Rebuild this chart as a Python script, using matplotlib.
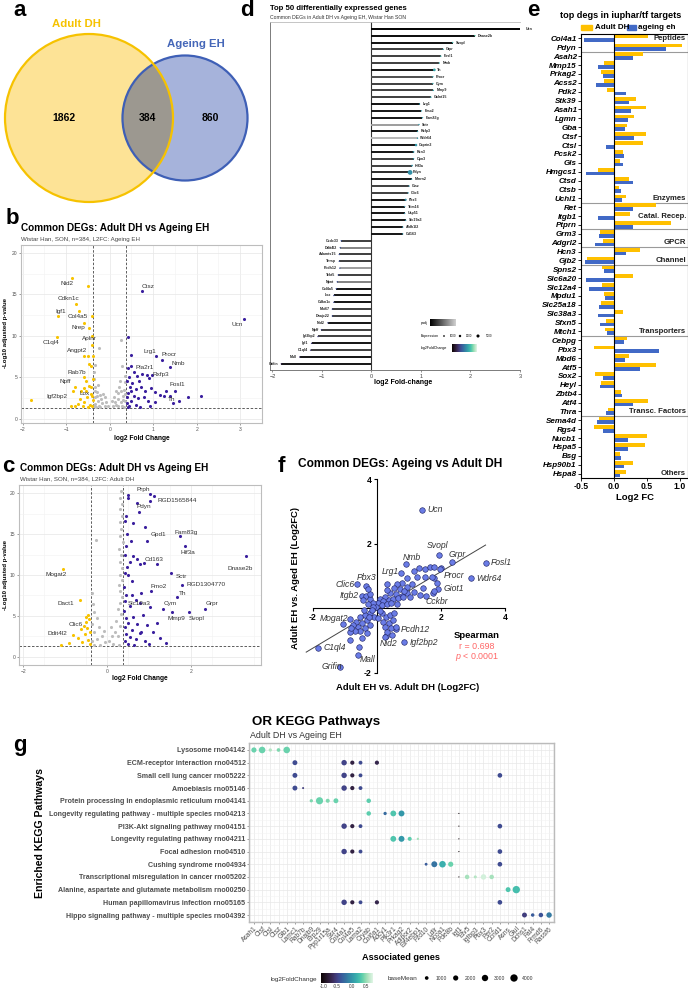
import matplotlib.pyplot as plt
import numpy as np
import seaborn as sns
from matplotlib.patches import Circle, Rectangle
from matplotlib.colors import Normalize, LinearSegmentedColormap

plt.rcParams['font.family'] = ['Liberation Sans', 'DejaVu Sans']
plt.rcParams['mathtext.fontset'] = 'custom'
plt.rcParams['mathtext.it'] = 'Liberation Sans:italic'
plt.rcParams['mathtext.rm'] = 'Liberation Sans'

# ---------------- data ----------------
# a: venn counts
venn_only_dh = 1862
venn_common = 384
venn_only_eh = 860

# b: volcano, L2FC Ageing EH  (x = log2FC, y = -log10 padj)
b_down = [(-0.87, 17.0), (-0.51, 16.0), (-0.78, 13.9), (-0.70, 13.0), (-1.19, 12.4), (-0.41, 12.4),
          (-0.60, 11.6), (-0.47, 11.0), (-1.21, 9.9), (-0.40, 10.0), (-0.41, 8.9), (-0.60, 7.6),
          (-0.51, 7.6), (-0.39, 7.6), (-0.47, 6.6), (-0.44, 6.4), (-0.60, 5.0), (-0.55, 4.6),
          (-0.39, 4.8), (-0.47, 4.0), (-0.79, 3.9), (-0.84, 3.4), (-0.60, 3.7), (-0.66, 3.3),
          (-0.42, 3.0), (-0.52, 2.6), (-0.39, 2.3), (-0.60, 2.0), (-0.72, 1.8), (-0.45, 1.7),
          (-0.40, 1.5), (-0.62, 1.5), (-0.80, 1.6), (-0.55, 3.4), (-1.81, 2.25), (-0.43, 3.9),
          (-0.50, 1.4), (-0.68, 2.4), (-0.40, 2.7), (-0.90, 1.5)]
b_grey = [(-0.36, 4.8), (-0.34, 3.9), (-0.30, 3.2), (-0.35, 2.6), (-0.28, 2.2), (-0.22, 2.9),
          (-0.33, 1.8), (-0.25, 1.6), (-0.18, 1.9), (-0.12, 1.5), (-0.31, 1.4), (-0.20, 2.4),
          (-0.15, 3.0), (-0.27, 4.1), (-0.36, 5.6), (-0.33, 6.5), (-0.25, 8.6), (-0.08, 2.0),
          (-0.05, 1.6), (-0.10, 2.6), (-0.22, 1.45), (-0.35, 3.3), (-0.29, 2.7), (-0.36, 1.6),
          (0.08, 1.5), (0.12, 2.0), (0.15, 1.7), (0.20, 2.4), (0.18, 3.1), (0.25, 2.0), (0.28, 1.6),
          (0.30, 2.8), (0.22, 3.8), (0.33, 3.5), (0.35, 4.4), (0.10, 2.6), (0.27, 9.5), (0.28, 6.4),
          (0.36, 5.2), (0.32, 1.45), (0.14, 3.4), (0.06, 2.2), (0.24, 4.6), (0.36, 2.1), (0.31, 2.3),
          (0.20, 1.5), (0.34, 3.0), (0.26, 3.3)]
b_up = [(0.73, 15.4), (3.08, 12.0), (0.43, 9.9), (1.07, 7.6), (0.48, 7.7), (1.21, 7.1), (1.38, 6.2),
        (0.50, 6.4), (0.96, 5.3), (1.50, 3.3), (1.38, 2.7), (0.42, 6.1), (0.55, 5.6), (0.45, 5.0),
        (0.62, 5.2), (0.75, 5.4), (0.86, 5.3), (0.90, 4.9), (0.68, 4.6), (0.52, 4.3), (0.40, 4.6),
        (0.47, 3.8), (0.60, 3.6), (0.72, 3.9), (0.80, 3.4), (0.95, 3.7), (1.05, 3.2), (1.15, 2.9),
        (1.25, 2.8), (0.42, 3.1), (0.55, 2.8), (0.66, 2.5), (0.78, 2.6), (0.88, 2.2), (0.50, 2.2),
        (0.40, 1.9), (0.60, 1.7), (0.45, 1.5), (0.92, 1.6), (1.45, 1.9), (2.10, 2.7), (1.60, 2.2),
        (1.03, 2.0), (0.70, 1.4), (0.40, 2.6), (0.43, 1.4), (1.80, 2.6), (1.30, 3.4), (0.50, 3.3)]
b_labels = [("Nid2", -0.99, 16.3), ("Cdkn1c", -0.96, 14.5), ("Igf1", -1.12, 13.0), ("Col4a5", -0.73, 12.4),
            ("Nrep", -0.73, 11.0), ("C1ql4", -1.35, 9.2), ("Aplnr", -0.47, 9.7), ("Angpt2", -0.76, 8.2),
            ("Rab7b", -0.76, 5.6), ("Npff", -1.02, 4.5), ("Igf2bp2", -1.22, 2.7), ("Lox", -0.58, 3.1),
            ("Ctsz", 0.88, 15.9), ("Lrg1", 0.92, 8.1), ("Procr", 1.36, 7.7), ("Nmb", 1.58, 6.7),
            ("Pla2r1", 0.81, 6.2), ("Rxfp3", 1.17, 5.3), ("Fosl1", 1.56, 4.2), ("Th", 1.42, 2.3),
            ("Ucn", 2.93, 11.4)]

# c: volcano, L2FC Adult DH
c_down = [(-1.06, 10.7), (-0.64, 7.0), (-0.50, 4.3), (-0.82, 2.7), (-0.45, 5.1), (-0.50, 4.9),
          (-0.42, 4.6), (-0.55, 3.8), (-0.48, 3.5), (-0.62, 3.4), (-0.40, 3.0), (-0.52, 2.8),
          (-0.70, 2.3), (-0.45, 2.1), (-0.40, 1.6), (-0.60, 1.8), (-0.90, 1.7), (-1.10, 1.5)]
c_grey = [(0.33, 20.2), (0.31, 19.4), (0.35, 18.7), (0.32, 18.0), (0.36, 17.2), (0.30, 16.5),
          (0.34, 15.6), (0.32, 14.8), (0.37, 14.0), (0.29, 13.2), (0.33, 12.4), (0.31, 11.6),
          (0.35, 10.8), (0.30, 10.0), (0.36, 9.4), (0.28, 8.8), (0.32, 8.0), (0.35, 7.3), (0.30, 6.6),
          (0.26, 5.9), (0.33, 5.2), (-0.27, 14.3), (-0.36, 7.8), (-0.34, 6.5), (-0.30, 5.5),
          (-0.25, 4.8), (-0.35, 4.0), (-0.20, 3.6), (-0.30, 3.0), (-0.12, 2.6), (-0.25, 2.2),
          (-0.35, 1.9), (-0.05, 1.8), (-0.18, 1.5), (0.05, 2.0), (0.12, 2.5), (0.20, 3.1), (0.15, 1.6),
          (0.25, 2.6), (0.30, 3.8), (0.22, 4.4), (0.28, 1.5), (-0.08, 3.2), (0.10, 3.6), (-0.30, 1.4)]
c_up = [(1.02, 19.9), (1.02, 19.0), (0.71, 18.8), (0.94, 14.1), (1.74, 14.7), (1.86, 13.5), (1.18, 11.3),
        (1.52, 10.3), (1.78, 8.8), (1.04, 8.1), (1.66, 7.3), (1.02, 6.1), (1.34, 5.9), (1.54, 5.45),
        (1.96, 5.5), (2.33, 5.85), (3.31, 12.3), (1.13, 19.6), (0.51, 19.8), (0.51, 19.4), (0.75, 17.7),
        (0.45, 17.2), (0.42, 16.6), (0.62, 16.4), (0.90, 15.8), (0.48, 15.0), (0.58, 14.2), (0.45, 13.5),
        (0.42, 12.4), (0.62, 12.3), (0.72, 12.0), (0.55, 11.6), (0.78, 11.4), (0.88, 11.5), (0.48, 11.0),
        (0.42, 10.2), (0.50, 10.0), (0.60, 9.3), (0.40, 8.5), (0.45, 7.6), (0.60, 7.5), (0.82, 7.8),
        (0.70, 7.0), (0.42, 6.8), (0.55, 6.2), (0.78, 6.6), (0.40, 5.6), (0.46, 4.8), (0.62, 4.9),
        (0.85, 5.1), (0.50, 4.2), (0.72, 4.0), (0.95, 3.9), (0.42, 3.6), (0.60, 3.3), (0.80, 3.1),
        (1.10, 3.0), (0.45, 2.8), (0.55, 2.4), (0.70, 2.2), (0.90, 2.0), (1.25, 2.3), (0.42, 2.0),
        (0.50, 1.6), (0.65, 1.5), (1.00, 1.6), (1.40, 1.7), (0.78, 2.9), (1.20, 4.1)]
c_labels = [("Prph", 0.86, 20.4), ("RGD1565844", 1.66, 19.1), ("Pdyn", 0.88, 18.3), ("Gpd1", 1.22, 14.9),
            ("Fam83g", 1.88, 15.2), ("Hif3a", 1.92, 12.8), ("Cd163", 1.12, 11.9), ("Sctr", 1.78, 9.8),
            ("RGD1304770", 2.35, 8.8), ("Fmo2", 1.22, 8.6), ("Th", 1.79, 7.8), ("Slc19a3", 0.77, 6.5),
            ("Cym", 1.50, 6.5), ("Mmp9", 1.66, 4.7), ("Svopl", 2.14, 4.7), ("Grpr", 2.51, 6.5),
            ("Dnase2b", 3.17, 10.8), ("Mogat2", -1.21, 10.1), ("Dact1", -0.98, 6.5), ("Clic6", -0.74, 4.0),
            ("Ddit4l2", -1.18, 2.9)]

# d: top 50 DEGs lollipop
d_genes = ["Ucn", "Dnase2b", "Svopl", "Grpr", "Fosl1", "Nmb", "Th", "Procr", "Cym", "Mmp9",
           "Galnt15", "Lrg1", "Fmo2", "Fam83g", "Sctr", "Rxfp3", "Wdr64", "Caprin2", "Rcn3", "Opn3",
           "Hif3a", "Pdyn", "Mmrn2", "Ctsz", "Clic6", "Pbx3", "Trim16", "Usp51", "Slc19a3", "Aldh1l2",
           "Cd163", "Ccdc33", "Ddit4l2", "Adamts15", "Thrsp", "Pcdh12", "Tekt5", "Npnt", "Col4a5", "Lox",
           "Cdkn1c", "Mki67", "Dnajc22", "Nid2", "Npff", "Igf2bp2", "Igf1", "C1ql4", "Mall", "Grifin"]
d_lfc = [3.06, 2.09, 1.64, 1.45, 1.40, 1.37, 1.27, 1.24, 1.24, 1.25,
         1.20, 0.97, 1.01, 1.03, 0.96, 0.93, 0.93, 0.90, 0.85, 0.85,
         0.82, 0.78, 0.81, 0.76, 0.74, 0.69, 0.67, 0.67, 0.69, 0.63,
         0.63, -0.61, -0.63, -0.65, -0.65, -0.64, -0.67, -0.69, -0.71, -0.76,
         -0.76, -0.79, -0.79, -0.88, -1.01, -1.08, -1.21, -1.23, -1.45, -1.82]
d_padj = [0.000, 0.002, 0.003, 0.012, 0.012, 0.012, 0.004, 0.015, 0.012, 0.012,
          0.012, 0.003, 0.004, 0.004, 0.030, 0.004, 0.035, 0.004, 0.004, 0.012,
          0.012, 0.008, 0.004, 0.012, 0.012, 0.004, 0.004, 0.004, 0.004, 0.004,
          0.004, 0.012, 0.025, 0.012, 0.012, 0.030, 0.012, 0.025, 0.004, 0.004,
          0.004, 0.012, 0.012, 0.004, 0.012, 0.012, 0.004, 0.012, 0.004, 0.004]
d_expr = [200, 200, 200, 200, 200, 200, 1500, 200, 200, 200,
          200, 200, 200, 200, 200, 200, 200, 1200, 400, 200,
          400, 5000, 200, 200, 200, 800, 200, 200, 200, 200,
          200, 200, 200, 200, 200, 200, 200, 200, 200, 200,
          200, 200, 200, 200, 200, 200, 200, 200, 200, 200]

# e: IUPHAR / TF targets
e_genes = ["Col4a1", "Pdyn",
           "Asah2", "Mmp15", "Prkag2", "Acss2", "Pdk2", "Stk39", "Asah1", "Lgmn", "Gba", "Ctsf", "Ctsl",
           "Pcsk2", "Gls", "Hmgcs1", "Ctsd", "Ctsb", "Uchl1",
           "Ret", "Itgb1", "Ptprn",
           "Grm3", "Adgrl2",
           "Hcn3", "Gjb2",
           "Spns2", "Slc6a20", "Slc12a4", "Mpdu1", "Slc25a18", "Slc38a3", "Sfxn5", "Mtch1",
           "Cebpg", "Pbx3", "Mbd6", "Atf5", "Sox2", "Heyl", "Zbtb4", "Atf4", "Thra",
           "Sema4d", "Rgs4", "Nucb1", "Hspa5", "Bsg", "Hsp90b1", "Hspa8"]
e_adult_dh = [0.51, 1.03,
              0.44, -0.15, -0.20, -0.15, -0.10, 0.33, 0.48, 0.30, 0.20, 0.48, 0.44,
              0.13, 0.09, -0.25, 0.22, 0.07, 0.18,
              0.64, 0.24, 0.86,
              -0.21, -0.17,
              0.39, -0.41,
              -0.18, 0.28, -0.18, -0.15, -0.19, 0.13, -0.12, -0.14,
              0.20, -0.31, 0.22, 0.63, -0.29, -0.20, 0.11, 0.52, -0.09,
              -0.22, -0.30, 0.50, 0.47, 0.09, 0.29, 0.18]
e_ageing_eh = [-0.45, 0.79,
               0.29, -0.25, -0.17, -0.27, 0.18, 0.22, 0.25, 0.21, 0.17, 0.30, -0.12,
               0.15, 0.13, -0.42, 0.28, 0.11, 0.12,
               0.29, -0.25, 0.29,
               -0.22, -0.29,
               0.18, -0.44,
               -0.15, -0.43, -0.38, -0.14, -0.23, -0.25, -0.21, -0.10,
               0.15, 0.68, 0.17, 0.40, -0.17, -0.21, 0.12, 0.28, -0.12,
               -0.26, -0.17, 0.21, 0.21, 0.10, 0.15, 0.09]
e_groups = ["Peptides", "Enzymes", "Catal. Recep.", "GPCR", "Channel", "Transporters", "Transc. Factors", "Others"]
e_group_sizes = [2, 17, 3, 2, 2, 8, 9, 7]

# f: scatter, Adult EH vs Adult DH (x) and Adult EH vs Aged EH (y)
f_named = [("Ucn", 1.43, 3.06), ("Svopl", 1.96, 1.64), ("Grpr", 2.34, 1.42), ("Nmb", 0.91, 1.37),
           ("Lrg1", 0.76, 1.08), ("Procr", 1.79, 0.95), ("Giot1", 1.90, 0.60), ("Cckbr", 1.77, 0.46),
           ("Fosl1", 3.42, 1.41), ("Wdr64", 2.94, 0.93), ("Clic6", -0.60, 0.74), ("Pbx3", -0.33, 0.69),
           ("Itgb2", -0.47, 0.38), ("Mogat2", -0.83, -0.33), ("C1ql4", -1.84, -1.22), ("Nid2", 0.28, -0.86),
           ("Pcdh12", 0.60, -0.64), ("Igf2bp2", 0.85, -1.05), ("Mall", -0.57, -1.45), ("Grifin", -1.15, -1.81)]
f_other = [(1.17, 1.16), (1.33, 1.24), (1.51, 1.21), (1.67, 1.29), (1.79, 1.27), (2.00, 1.24), (1.25, 0.98),
           (1.51, 0.96), (1.73, 0.98), (0.94, 0.93), (0.78, 0.77), (0.62, 0.75), (0.31, 0.75), (0.54, 0.62),
           (0.73, 0.59), (0.96, 0.67), (1.15, 0.51), (1.35, 0.41), (1.54, 0.38), (1.79, 0.55), (1.88, 0.77),
           (1.98, 1.21), (0.94, 0.46), (0.78, 0.38), (0.60, 0.44), (0.42, 0.46), (0.26, 0.36), (0.11, 0.28),
           (0.21, 0.21), (0.37, 0.26), (0.52, 0.28), (0.68, 0.31), (0.83, 0.34), (1.04, 0.36), (0.31, 0.56),
           (0.05, 0.15), (0.16, 0.10), (0.31, 0.12), (-0.02, 0.05), (-0.33, 0.38), (-0.20, 0.28), (-0.10, 0.15),
           (-0.42, 0.26), (-0.26, 0.13), (-0.12, 0.05), (-0.20, 0.44), (-0.28, 0.59), (-0.20, -0.16),
           (-0.36, -0.21), (-0.52, -0.26), (-0.31, -0.37), (-0.47, -0.45), (-0.63, -0.42), (-0.20, -0.52),
           (-0.36, -0.62), (-0.57, -0.57), (-0.73, -0.52), (-0.52, -0.72), (-0.68, -0.69), (-0.83, -0.75),
           (-0.31, -0.78), (-0.47, -0.93), (-0.83, -0.98), (-1.06, -0.50), (-0.81, -0.60), (-0.15, -0.06),
           (-0.08, -0.26), (-0.23, -0.28), (-0.40, -0.06), (0.16, -0.16), (0.29, -0.26), (0.42, -0.21),
           (0.21, -0.42), (0.37, -0.45), (0.52, -0.37), (0.26, -0.57), (0.44, -0.62), (0.60, -0.57),
           (0.31, -0.75), (0.47, -0.82), (0.26, -0.90), (0.11, -0.10), (0.05, -0.31), (0.54, -0.16),
           (-0.54, -1.19), (0.45, 0.15), (0.65, 0.12), (0.85, 0.55), (1.10, 0.75), (1.45, 0.62)]
f_label_pos = {"Ucn": (1.58, 3.06, 'left'), "Svopl": (1.90, 1.93, 'center'), "Grpr": (2.50, 1.67, 'center'),
               "Nmb": (1.09, 1.58, 'center'), "Lrg1": (0.42, 1.15, 'center'), "Procr": (2.08, 1.03, 'left'),
               "Giot1": (2.08, 0.60, 'left'), "Cckbr": (1.89, 0.20, 'center'), "Fosl1": (3.57, 1.41, 'left'),
               "Wdr64": (3.10, 0.93, 'left'), "Clic6": (-0.99, 0.74, 'center'), "Pbx3": (-0.31, 0.95, 'center'),
               "Itgb2": (-0.87, 0.38, 'center'), "Mogat2": (-1.32, -0.33, 'center'), "C1ql4": (-1.67, -1.22, 'left'),
               "Nid2": (0.36, -1.08, 'center'), "Pcdh12": (0.76, -0.65, 'left'), "Igf2bp2": (1.02, -1.05, 'left'),
               "Mall": (-0.28, -1.60, 'center'), "Grifin": (-1.41, -1.81, 'center')}
f_fit_x = [-2.2, 3.4]
f_fit_y = [-1.36, 1.96]
f_spearman_r = 0.698

# g: KEGG pathways dot plot
g_genes = ["Asah1", "Ctsf", "Ctsl", "Ctsz", "Glb1", "Lamc1", "Rab7b", "Dnajb9", "Erp29", "Ppp1r15a",
           "Ssr4", "Col4a1", "Col4a5", "Lama2", "Cryab", "Col6a1", "Adcy1", "Pik3r1", "Prkag2", "Adipor2",
           "Eif4ebp1", "Fzd10", "Ldlr", "Ncoa1", "Pde8b", "Igf1", "Etv5", "Igfbp3", "Pbx3", "Per2",
           "Ccnd1", "Asns", "Glul", "Dchs1", "Fat4", "Frmd6", "Rassf6"]
g_lfc = [0.40, 0.40, 0.60, 0.45, 0.40, -0.50, -0.60, 0.45, 0.40, 0.45,
         0.40, -0.55, -0.85, -0.50, 0.35, -0.80, -0.30, 0.30, 0.00, 0.35,
         0.55, -0.40, -0.25, 0.15, 0.40, -1.10, 0.55, 0.60, 0.70, 0.55,
         -0.50, 0.30, 0.25, -0.60, -0.40, -0.45, -0.20]
g_basemean = [2000, 3200, 800, 1000, 3200, 1800, 300, 800, 3800, 1200,
              1800, 2200, 1300, 1100, 1500, 1300, 800, 2500, 2600, 1200,
              400, 600, 2600, 3200, 2000, 100, 1500, 700, 2200, 1500,
              1600, 1800, 4000, 1800, 900, 1500, 2200]
g_pathways = ["Lysosome rno04142", "ECM-receptor interaction rno04512", "Small cell lung cancer rno05222",
              "Amoebiasis rno05146", "Protein processing in endoplasmic reticulum rno04141",
              "Longevity regulating pathway - multiple species rno04213", "PI3K-Akt signaling pathway rno04151",
              "Longevity regulating pathway rno04211", "Focal adhesion rno04510", "Cushing syndrome rno04934",
              "Transcriptional misregulation in cancer rno05202",
              "Alanine, aspartate and glutamate metabolism rno00250", "Human papillomavirus infection rno05165",
              "Hippo signaling pathway - multiple species rno04392"]
g_members = [["Asah1", "Ctsf", "Ctsl", "Ctsz", "Glb1"],
             ["Lamc1", "Col4a1", "Col4a5", "Lama2", "Col6a1"],
             ["Lamc1", "Col4a1", "Col4a5", "Lama2", "Ccnd1"],
             ["Lamc1", "Rab7b", "Col4a1", "Col4a5", "Lama2"],
             ["Dnajb9", "Erp29", "Ppp1r15a", "Ssr4", "Cryab"],
             ["Cryab", "Adcy1", "Pik3r1", "Prkag2", "Igf1"],
             ["Col4a1", "Col4a5", "Lama2", "Igf1", "Ccnd1"],
             ["Pik3r1", "Prkag2", "Adipor2", "Eif4ebp1", "Igf1"],
             ["Col4a1", "Col4a5", "Lama2", "Igf1", "Ccnd1"],
             ["Fzd10", "Ldlr", "Ncoa1", "Pde8b", "Ccnd1"],
             ["Igf1", "Etv5", "Igfbp3", "Pbx3", "Per2"],
             ["Asns", "Glul"],
             ["Col4a1", "Col4a5", "Lama2", "Col6a1", "Ccnd1"],
             ["Dchs1", "Fat4", "Frmd6", "Rassf6"]]

# ---------------- figure ----------------
W, H = 688, 991
fig = plt.figure(figsize=(W / 100, H / 100), dpi=100)


def px_axes(x0, y0, x1, y1):
    return fig.add_axes([x0 / W, 1 - y1 / H, (x1 - x0) / W, (y1 - y0) / H])


mako = sns.color_palette("mako", as_cmap=True)
YEL = '#F7C300'
PUR = '#3A1F9E'
GRY = '#BDBDBD'
TXT = '#333333'


def volcano(ax, down, grey, up, labels, xlim, ylim, xticks):
    for pts, col in ((grey, GRY), (down, YEL), (up, PUR)):
        xs, ys = zip(*pts)
        ax.scatter(xs, ys, s=5, c=col, lw=0, zorder=3)
    for name, tx, ty in labels:
        ax.text(tx, ty, name, fontsize=4.6, color=TXT, ha='center', va='center', zorder=4)
    for xv in (-0.378, 0.378):
        ax.axvline(xv, color='#444444', lw=0.6, ls=(0, (3, 2)), zorder=2)
    ax.axhline(1.3, color='#444444', lw=0.6, ls=(0, (3, 2)), zorder=2)
    ax.set_xlim(*xlim)
    ax.set_ylim(*ylim)
    ax.set_xticks(xticks)
    ax.set_yticks([0, 5, 10, 15, 20])
    ax.set_xticks(np.arange(-1.5, 3.6, 1.0), minor=True)
    ax.set_yticks([2.5, 7.5, 12.5, 17.5], minor=True)
    ax.grid(True, which='major', color='#E6E6E6', lw=0.5)
    ax.grid(True, which='minor', color='#F2F2F2', lw=0.4)
    ax.set_axisbelow(True)
    ax.tick_params(labelsize=3.6, colors='#555555', length=1.5, width=0.4, pad=1.2)
    ax.tick_params(which='minor', length=0)
    for s in ax.spines.values():
        s.set_color('#BDBDBD')
        s.set_linewidth(0.8)


# panel b
ax_b = px_axes(21, 245, 262, 423)
volcano(ax_b, b_down, b_grey, b_up, b_labels, (-2.04, 3.31), (-0.5, 20.96), [-2, -1, 0, 1, 2, 3])

# panel c
ax_c = px_axes(19, 485, 261, 665)
volcano(ax_c, c_down, c_grey, c_up, c_labels, (-2.1, 3.67), (-0.98, 20.98), [-2, 0, 2])

# panel d
ax_d = px_axes(270, 22, 520, 370)
padj_cmap = LinearSegmentedColormap.from_list('padj', ['#000000', '#D0D0D0'])
d_y = np.arange(len(d_genes))
d_norm_p = Normalize(0, 0.04)
d_norm_l = Normalize(-3, 3.5)
ax_d.hlines(d_y, 0, d_lfc, colors=[padj_cmap(d_norm_p(p)) for p in d_padj], lw=1.4, zorder=2)
ax_d.scatter(d_lfc, d_y, s=[0.6 + e / 5000 * 11 for e in d_expr],
             c=[mako(d_norm_l(v)) for v in d_lfc], lw=0, zorder=3)
for yv, g, v in zip(d_y, d_genes, d_lfc):
    if v > 0:
        ax_d.text(v + 0.06, yv, g, fontsize=2.6, fontweight='bold', ha='left', va='center', color='#222222')
    else:
        ax_d.text(v - 0.06, yv, g, fontsize=2.6, fontweight='bold', ha='right', va='center', color='#222222')
ax_d.axvline(0, color='#333333', lw=0.8, zorder=1)
ax_d.set_xlim(-2.05, 3.0)
ax_d.set_ylim(49.9, -1.0)
ax_d.set_yticks([])
ax_d.set_xticks([-2, -1, 0, 1, 2, 3])
ax_d.tick_params(labelsize=4, colors='#444444', length=1.5, width=0.4, pad=1.5)
ax_d.spines['right'].set_visible(False)
ax_d.spines['top'].set_color('#BBBBBB')
ax_d.spines['top'].set_linewidth(0.6)
ax_d.spines['left'].set_color('#666666')
ax_d.spines['left'].set_linewidth(0.6)
ax_d.spines['bottom'].set_color('#666666')
ax_d.spines['bottom'].set_linewidth(0.6)

# panel e
ax_e = px_axes(581, 34, 688, 478)
e_y = np.arange(len(e_genes))
ax_e.barh(e_y - 0.21, e_adult_dh, height=0.42, color='#FFC000', zorder=2)
ax_e.barh(e_y + 0.21, e_ageing_eh, height=0.42, color='#4169C6', zorder=2)
ax_e.axvline(0, color='black', lw=0.8, zorder=3)
ends = np.cumsum(e_group_sizes)
for k, (grp, end) in enumerate(zip(e_groups, ends)):
    if k < len(e_groups) - 1:
        ax_e.axhline(end - 0.5, color='#9A9A9A', lw=0.8, zorder=1)
    row = 0 if k == 0 else end - 1
    if grp == "Catal. Recep.":
        row = end - 2
    ax_e.text(1.09, row, grp, fontsize=5.6, fontweight='bold', ha='right', va='center', color='#222222')
ax_e.set_ylim(len(e_genes) - 0.5, -0.5)
ax_e.set_xlim(-0.5, 1.12)
ax_e.set_yticks(e_y)
ax_e.set_yticklabels(e_genes, fontsize=5.8, fontweight='bold', style='italic')
ax_e.set_xticks([-0.5, 0.0, 0.5, 1.0])
ax_e.set_xticklabels(['-0.5', '0.0', '0.5', '1.0'], fontsize=6.2, fontweight='bold')
ax_e.tick_params(length=2, width=0.6, pad=1)
ax_e.set_xlabel('Log2 FC', fontsize=6.8, fontweight='bold', labelpad=1)
for s in ax_e.spines.values():
    s.set_linewidth(0.8)

# panel f
ax_f = px_axes(303, 476, 508, 676)
fx = [p[1] for p in f_named] + [p[0] for p in f_other]
fy = [p[2] for p in f_named] + [p[1] for p in f_other]
ax_f.plot(f_fit_x, f_fit_y, color='#444444', lw=0.7, zorder=2)
ax_f.scatter(fx, fy, s=16, c='#6A7CE6', edgecolors='#25296A', linewidths=0.45, zorder=3)
for name, px, py in f_named:
    tx, ty, ha = f_label_pos[name]
    ax_f.text(tx, ty, name, fontsize=6.2, style='italic', color=TXT, ha=ha, va='center', zorder=4)
ax_f.set_xlim(-2.3, 4.1)
ax_f.set_ylim(-2.1, 4.1)
ax_f.spines['left'].set_position(('data', 0))
ax_f.spines['bottom'].set_position(('data', 0))
ax_f.spines['left'].set_bounds(-2, 4)
ax_f.spines['bottom'].set_bounds(-2, 4)
ax_f.spines['right'].set_visible(False)
ax_f.spines['top'].set_visible(False)
for s in ('left', 'bottom'):
    ax_f.spines[s].set_linewidth(0.8)
ax_f.set_xticks([-2, 2, 4])
ax_f.set_yticks([-2, 2, 4])
ax_f.set_xticklabels(['-2', '2', '4'], fontsize=6.2, fontweight='bold')
ax_f.set_yticklabels(['-2', '2', '4'], fontsize=6.2, fontweight='bold')
ax_f.tick_params(length=2.5, width=0.8, pad=1)
ax_f.patch.set_alpha(0)

# panel g
ax_g = px_axes(249, 743, 554, 922)
g_idx = {g: i for i, g in enumerate(g_genes)}
g_norm = Normalize(-1.15, 0.75)
gx, gy, gc, gs = [], [], [], []
for r, mem in enumerate(g_members):
    for g in mem:
        i = g_idx[g]
        gx.append(i)
        gy.append(r)
        gc.append(mako(g_norm(g_lfc[i])))
        gs.append(g_basemean[i] / 1000 * 7)
ax_g.scatter(gx, gy, s=gs, c=gc, lw=0, zorder=3)
ax_g.set_xlim(-0.6, 36.6)
ax_g.set_ylim(13.55, -0.55)
ax_g.set_xticks(range(len(g_genes)))
ax_g.set_xticklabels(g_genes, rotation=45, ha='right', rotation_mode='anchor', fontsize=4.8, color='#4D4D4D')
ax_g.set_yticks(range(len(g_pathways)))
ax_g.set_yticklabels(g_pathways, fontsize=5.1, fontweight='bold', color='#4D4D4D')
ax_g.set_xticks(np.arange(-0.5, 36.6, 1), minor=True)
ax_g.set_yticks(np.arange(-0.5, 13.6, 1), minor=True)
ax_g.grid(True, which='major', color='#E8E8E8', lw=0.5)
ax_g.grid(True, which='minor', color='#F3F3F3', lw=0.4)
ax_g.set_axisbelow(True)
ax_g.tick_params(length=1.5, width=0.4, colors='#4D4D4D', pad=1)
ax_g.tick_params(which='minor', length=0)
for s in ax_g.spines.values():
    s.set_color('#BBBBBB')
    s.set_linewidth(1.0)

# ---------------- overlay: venn, titles, letters, legends ----------------
ov = fig.add_axes([0, 0, 1, 1])
ov.axis('off')

# venn circles, area proportional to set size
k = 84 / np.sqrt(venn_only_dh + venn_common)
r_dh = k * np.sqrt(venn_only_dh + venn_common)
r_eh = k * np.sqrt(venn_only_eh + venn_common)
c_dh = (89, 118)
c_eh = (185, 118)
circ_dh = Circle(c_dh, r_dh, facecolor='#FDE396', edgecolor='none', zorder=1)
circ_eh = Circle(c_eh, r_eh, facecolor='#A6B3DB', edgecolor='none', zorder=1)
ov.add_patch(circ_dh)
ov.add_patch(circ_eh)
clip_dh = Circle(c_dh, r_dh, facecolor='none', edgecolor='none')
ov.add_patch(clip_dh)
overlap = Circle(c_eh, r_eh, facecolor='#9C9890', edgecolor='none', zorder=2)
ov.add_patch(overlap)
overlap.set_clip_path(clip_dh)
ov.add_patch(Circle(c_eh, r_eh, facecolor='none', edgecolor='#3E5FB6', lw=1.6, zorder=3))
ov.add_patch(Circle(c_dh, r_dh, facecolor='none', edgecolor='#F6C200', lw=1.6, zorder=4))
ov.text(64, 118, str(venn_only_dh), fontsize=7.5, fontweight='bold', ha='center', va='center', zorder=5)
ov.text(147, 118, str(venn_common), fontsize=7.5, fontweight='bold', ha='center', va='center', zorder=5)
ov.text(210, 118, str(venn_only_eh), fontsize=7.5, fontweight='bold', ha='center', va='center', zorder=5)
ov.text(76, 24, 'Adult DH', fontsize=8.2, fontweight='bold', color='#F6C200', ha='center', va='center')
ov.text(196, 44, 'Ageing EH', fontsize=8.2, fontweight='bold', color='#4466B8', ha='center', va='center')

# panel letters
for letter, x, y in (('a', 20, 11), ('b', 12, 219), ('c', 8, 467), ('d', 247, 11), ('e', 533, 11),
                     ('f', 281, 467), ('g', 20, 745)):
    ov.text(x, y, letter, fontsize=16, fontweight='bold', ha='center', va='center')

# b/c titles and axis labels
ov.text(21, 228, 'Common DEGs: Adult DH vs Ageing EH', fontsize=7.2, fontweight='bold', va='center')
ov.text(21, 240, 'Wistar Han, SON, n=384, L2FC: Ageing EH', fontsize=4.4, color='#444444', va='center')
ov.text(6, 333, '-Log10 adjusted p-value', fontsize=4.4, fontweight='bold', rotation=90, ha='center', va='center')
ov.text(142, 438, 'log2 Fold Change', fontsize=4.8, fontweight='bold', ha='center', va='center')
ov.text(20, 468, 'Common DEGs: Adult DH vs Ageing EH', fontsize=7.2, fontweight='bold', va='center')
ov.text(20, 479, 'Wistar Han, SON, n=384, L2FC: Adult DH', fontsize=4.4, color='#444444', va='center')
ov.text(6, 575, '-Log10 adjusted p-value', fontsize=4.4, fontweight='bold', rotation=90, ha='center', va='center')
ov.text(140, 678, 'log2 Fold Change', fontsize=4.8, fontweight='bold', ha='center', va='center')

# d titles / legend
ov.text(270, 9, 'Top 50 differentially expressed genes', fontsize=5.6, fontweight='bold', va='center')
ov.text(270, 17, 'Common DEGs in Adult DH vs Ageing EH, Wistar Han SON', fontsize=3.7, color='#333333', va='center')
ov.text(403, 383, 'log2 Fold-change', fontsize=5.0, fontweight='bold', ha='center', va='center')
grad = np.linspace(0, 1, 64)[None, :]
ov.imshow(grad, extent=(430, 456, 326, 319), cmap=padj_cmap, aspect='auto', zorder=5)
ov.text(421, 323, 'padj', fontsize=2.6, va='center', ha='left')
ov.text(421, 336, 'Expression', fontsize=2.6, va='center', ha='left')
ov.scatter([444, 460, 478], [336, 336, 336], s=[1.5, 3, 5], c='black', lw=0, zorder=5)
for xx, t in zip([450, 466, 486], ['1000', '3000', '5000']):
    ov.text(xx, 336, t, fontsize=2.0, va='center', ha='left')
ov.text(421, 348, 'log2FoldChange', fontsize=2.6, va='center', ha='left')
ov.imshow(grad, extent=(452, 477, 352, 344), cmap=mako, aspect='auto', zorder=5)

# e title / legend
ov.text(621, 15, 'top degs in iuphar/tf targets', fontsize=6.6, fontweight='bold', ha='center', va='center')
ov.add_patch(Rectangle((581, 25), 11, 5, color='#FFC000'))
ov.text(595, 27.5, 'Adult DH', fontsize=5.8, fontweight='bold', va='center')
ov.add_patch(Rectangle((627, 25), 9, 5, color='#4169C6'))
ov.text(638, 27.5, 'ageing eh', fontsize=5.8, fontweight='bold', va='center')

# f title / labels
ov.text(400, 464, 'Common DEGs: Ageing vs Adult DH', fontsize=8.6, fontweight='bold', ha='center', va='center')
ov.text(408, 688, 'Adult EH vs. Adult DH (Log2FC)', fontsize=6.8, fontweight='bold', ha='center', va='center')
ov.text(296, 578, 'Adult EH vs. Aged EH (Log2FC)', fontsize=6.8, fontweight='bold', rotation=90,
        ha='center', va='center')
ov.text(477, 636, 'Spearman', fontsize=6.8, fontweight='bold', ha='center', va='center')
ov.text(477, 646.5, 'r = %.3f' % f_spearman_r, fontsize=6.4, color='#FF6666', ha='center', va='center')
ov.text(477, 657, '$\\it{p}$ < 0.0001', fontsize=6.4, color='#FF6666', ha='center', va='center')

# g title / labels / legend
ov.text(252, 722, 'OR KEGG Pathways', fontsize=9.6, fontweight='bold', va='center')
ov.text(250, 735, 'Adult DH vs Ageing EH', fontsize=6.4, color='#333333', va='center')
ov.text(40, 833, 'Enriched KEGG Pathways', fontsize=7.6, fontweight='bold', rotation=90, ha='center', va='center')
ov.text(401, 958, 'Associated genes', fontsize=6.6, fontweight='bold', ha='center', va='center')
ov.text(317, 979, 'log2FoldChange', fontsize=4.6, color='#333333', ha='right', va='center')
ov.imshow(grad, extent=(321, 373, 983, 973), cmap=mako, aspect='auto', zorder=5)
for xx, t in zip([324, 337, 352, 366], ['-1.0', '-0.5', '0.0', '0.5']):
    ov.text(xx, 987, t, fontsize=3.3, color='#333333', ha='center', va='center')
ov.text(403, 978, 'baseMean', fontsize=4.6, color='#333333', ha='center', va='center')
size_levels = [1000, 2000, 3000, 4000]
ov.scatter([426.7, 455.7, 485, 514], [978] * 4, s=[v / 1000 * 7 for v in size_levels], c='black', lw=0)
for xx, v in zip([441, 470, 499, 528], size_levels):
    ov.text(xx, 978, str(v), fontsize=3.6, color='#333333', ha='center', va='center')

ov.set_xlim(0, W)
ov.set_ylim(H, 0)

fig.savefig('out.png', dpi=100)
